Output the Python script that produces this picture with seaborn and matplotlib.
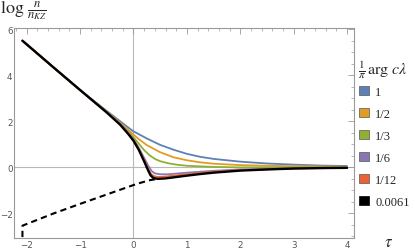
import numpy as np
import pandas as pd
import matplotlib
matplotlib.use("Agg")
import matplotlib.pyplot as plt
import matplotlib.patches as mpatches
import seaborn as sns

# legend labels and colours (Mathematica default palette)
labels = ["1", "1/2", "1/3", "1/6", "1/12", "0.0061"]
colors = ["#5E81B5", "#E19C24", "#8FB032", "#8778B3", "#EB6235", "#000000"]

# shared early-time part
tau_early = [-2.08, -1.5, -1.0]
val_early = [5.51, 4.35, 3.36]

tau_1 = tau_early + [-0.75, -0.5, -0.25, -0.1, 0, 0.25, 0.5, 0.75, 1.0, 1.25, 1.5, 2.0, 2.5, 3.0, 3.5, 4.0]
val_1 = val_early + [2.90, 2.45, 2.00, 1.73, 1.56, 1.25, 0.97, 0.76, 0.58, 0.45, 0.36, 0.24, 0.16, 0.11, 0.07, 0.05]

tau_2 = tau_early + [-0.75, -0.5, -0.25, -0.1, 0, 0.1, 0.25, 0.5, 0.75, 1.0, 1.25, 1.5, 2.0, 2.5, 3.0, 4.0]
val_2 = val_early + [2.89, 2.42, 1.93, 1.63, 1.42, 1.22, 0.96, 0.65, 0.43, 0.30, 0.21, 0.15, 0.09, 0.06, 0.04, 0.02]

tau_3 = tau_early + [-0.75, -0.5, -0.25, -0.1, 0, 0.1, 0.2, 0.3, 0.4, 0.5, 0.65, 0.8, 1.0, 1.5, 2.0, 3.0, 4.0]
val_3 = val_early + [2.88, 2.40, 1.90, 1.55, 1.30, 1.02, 0.74, 0.52, 0.36, 0.26, 0.17, 0.11, 0.06, 0.01, -0.01, -0.01, 0.0]

tau_6 = tau_early + [-0.75, -0.5, -0.25, -0.1, 0, 0.1, 0.2, 0.28, 0.34, 0.4, 0.5, 0.65, 0.8, 1.0, 1.5, 2.0, 3.0, 4.0]
val_6 = val_early + [2.88, 2.39, 1.88, 1.50, 1.22, 0.84, 0.40, 0.05, -0.17, -0.27, -0.31, -0.31, -0.28, -0.24, -0.16, -0.10, -0.04, -0.02]

tau_12 = tau_early + [-0.75, -0.5, -0.25, -0.1, 0, 0.1, 0.2, 0.27, 0.32, 0.37, 0.45, 0.6, 0.8, 1.0, 1.5, 2.0, 3.0, 4.0]
val_12 = val_early + [2.87, 2.38, 1.86, 1.47, 1.18, 0.78, 0.30, -0.05, -0.27, -0.38, -0.43, -0.41, -0.36, -0.31, -0.20, -0.13, -0.06, -0.03]

tau_k = tau_early + [-0.75, -0.5, -0.25, -0.1, 0, 0.1, 0.2, 0.27, 0.32, 0.37, 0.45, 0.6, 0.8, 1.0, 1.25, 1.5, 2.0, 2.5, 3.0, 3.5, 4.0]
val_k = val_early + [2.87, 2.38, 1.85, 1.45, 1.15, 0.75, 0.25, -0.12, -0.36, -0.47, -0.51, -0.49, -0.43, -0.37, -0.30, -0.24, -0.15,
                     -0.10, -0.06, -0.04, -0.03]

# dashed lower branch
tau_d = [-2.08, -2.08, -1.5, -1.0, -0.5, 0.0, 0.12, 0.3, 0.45]
val_d = [-3.5, -2.55, -2.02, -1.60, -1.19, -0.78, -0.69, -0.57, -0.51]

series = [(tau_1, val_1), (tau_2, val_2), (tau_3, val_3),
          (tau_6, val_6), (tau_12, val_12), (tau_k, val_k)]
frames = []
for lab, (t, v) in zip(labels, series):
    frames.append(pd.DataFrame({"tau": t, "val": v, "arg": lab}))
df = pd.concat(frames, ignore_index=True)
df_d = pd.DataFrame({"tau": tau_d, "val": val_d})

sns.set_style("white")
plt.rcParams["mathtext.fontset"] = "stix"
plt.rcParams["font.family"] = ["DejaVu Sans"]

fig = plt.figure(figsize=(4.15, 2.51), dpi=100)
ax = fig.add_axes([0.0335, 0.0466, 0.8195, 0.8366])

ax.axvline(0, color="#b8b8b8", lw=0.8, zorder=0)
ax.axhline(0, color="#b8b8b8", lw=0.8, zorder=0)

sns.lineplot(data=df_d, x="tau", y="val", ax=ax, color="black", lw=1.5,
             linestyle=(0, (3, 2)), sort=False, estimator=None)
for lab, col in zip(labels, colors):
    sub = df[df["arg"] == lab]
    sns.lineplot(data=sub, x="tau", y="val", ax=ax, color=col,
                 lw=1.7 if lab == "0.0061" else 1.3, sort=False, estimator=None)

ax.set_xlim(-2.24, 4.13)
ax.set_ylim(-3.1, 6.05)
ax.set_xticks([-2, -1, 0, 1, 2, 3, 4])
ax.set_xticklabels(["\u22122", "\u22121", "0", "1", "2", "3", "4"])
ax.set_yticks([-2, 0, 2, 4, 6])
ax.set_yticklabels(["\u22122", "0", "2", "4", "6"])
ax.set_xticks(np.arange(-2.2, 4.1, 0.2), minor=True)
ax.set_yticks(np.arange(-3.0, 6.01, 0.5), minor=True)
ax.tick_params(which="both", direction="in", top=True, right=True,
               color="#999999", labelsize=6.3, labelcolor="#555555", pad=1)
ax.tick_params(which="major", length=4, width=0.6)
ax.tick_params(which="minor", length=2, width=0.5)
ax.set_xlabel("")
ax.set_ylabel("")
for s in ax.spines.values():
    s.set_color("#999999")
    s.set_linewidth(0.8)

fig.text(0.0, 1.0, r"$\log\,\frac{n}{n_{KZ}}$", fontsize=13, va="top", ha="left")
fig.text(0.925, 0.035, r"$\tau$", fontsize=12, va="center", ha="left")

# legend title as its own text, entries below it
fig.text(0.862, 0.72, r"$\frac{1}{\pi}\,\arg\,c\lambda$", fontsize=11.5, va="center", ha="left")
handles = [mpatches.Patch(facecolor=c, edgecolor=("#000000" if c == "#000000" else "#555555"),
                          linewidth=0.5) for c in colors]
leg = fig.legend(handles, labels, loc="upper left", bbox_to_anchor=(0.866, 0.655),
                 frameon=False, borderpad=0, borderaxespad=0,
                 prop={"family": "Liberation Serif", "size": 9},
                 handlelength=0.75, handleheight=0.75,
                 handletextpad=0.5, labelspacing=0.8)

fig.savefig("out.png", dpi=100)
